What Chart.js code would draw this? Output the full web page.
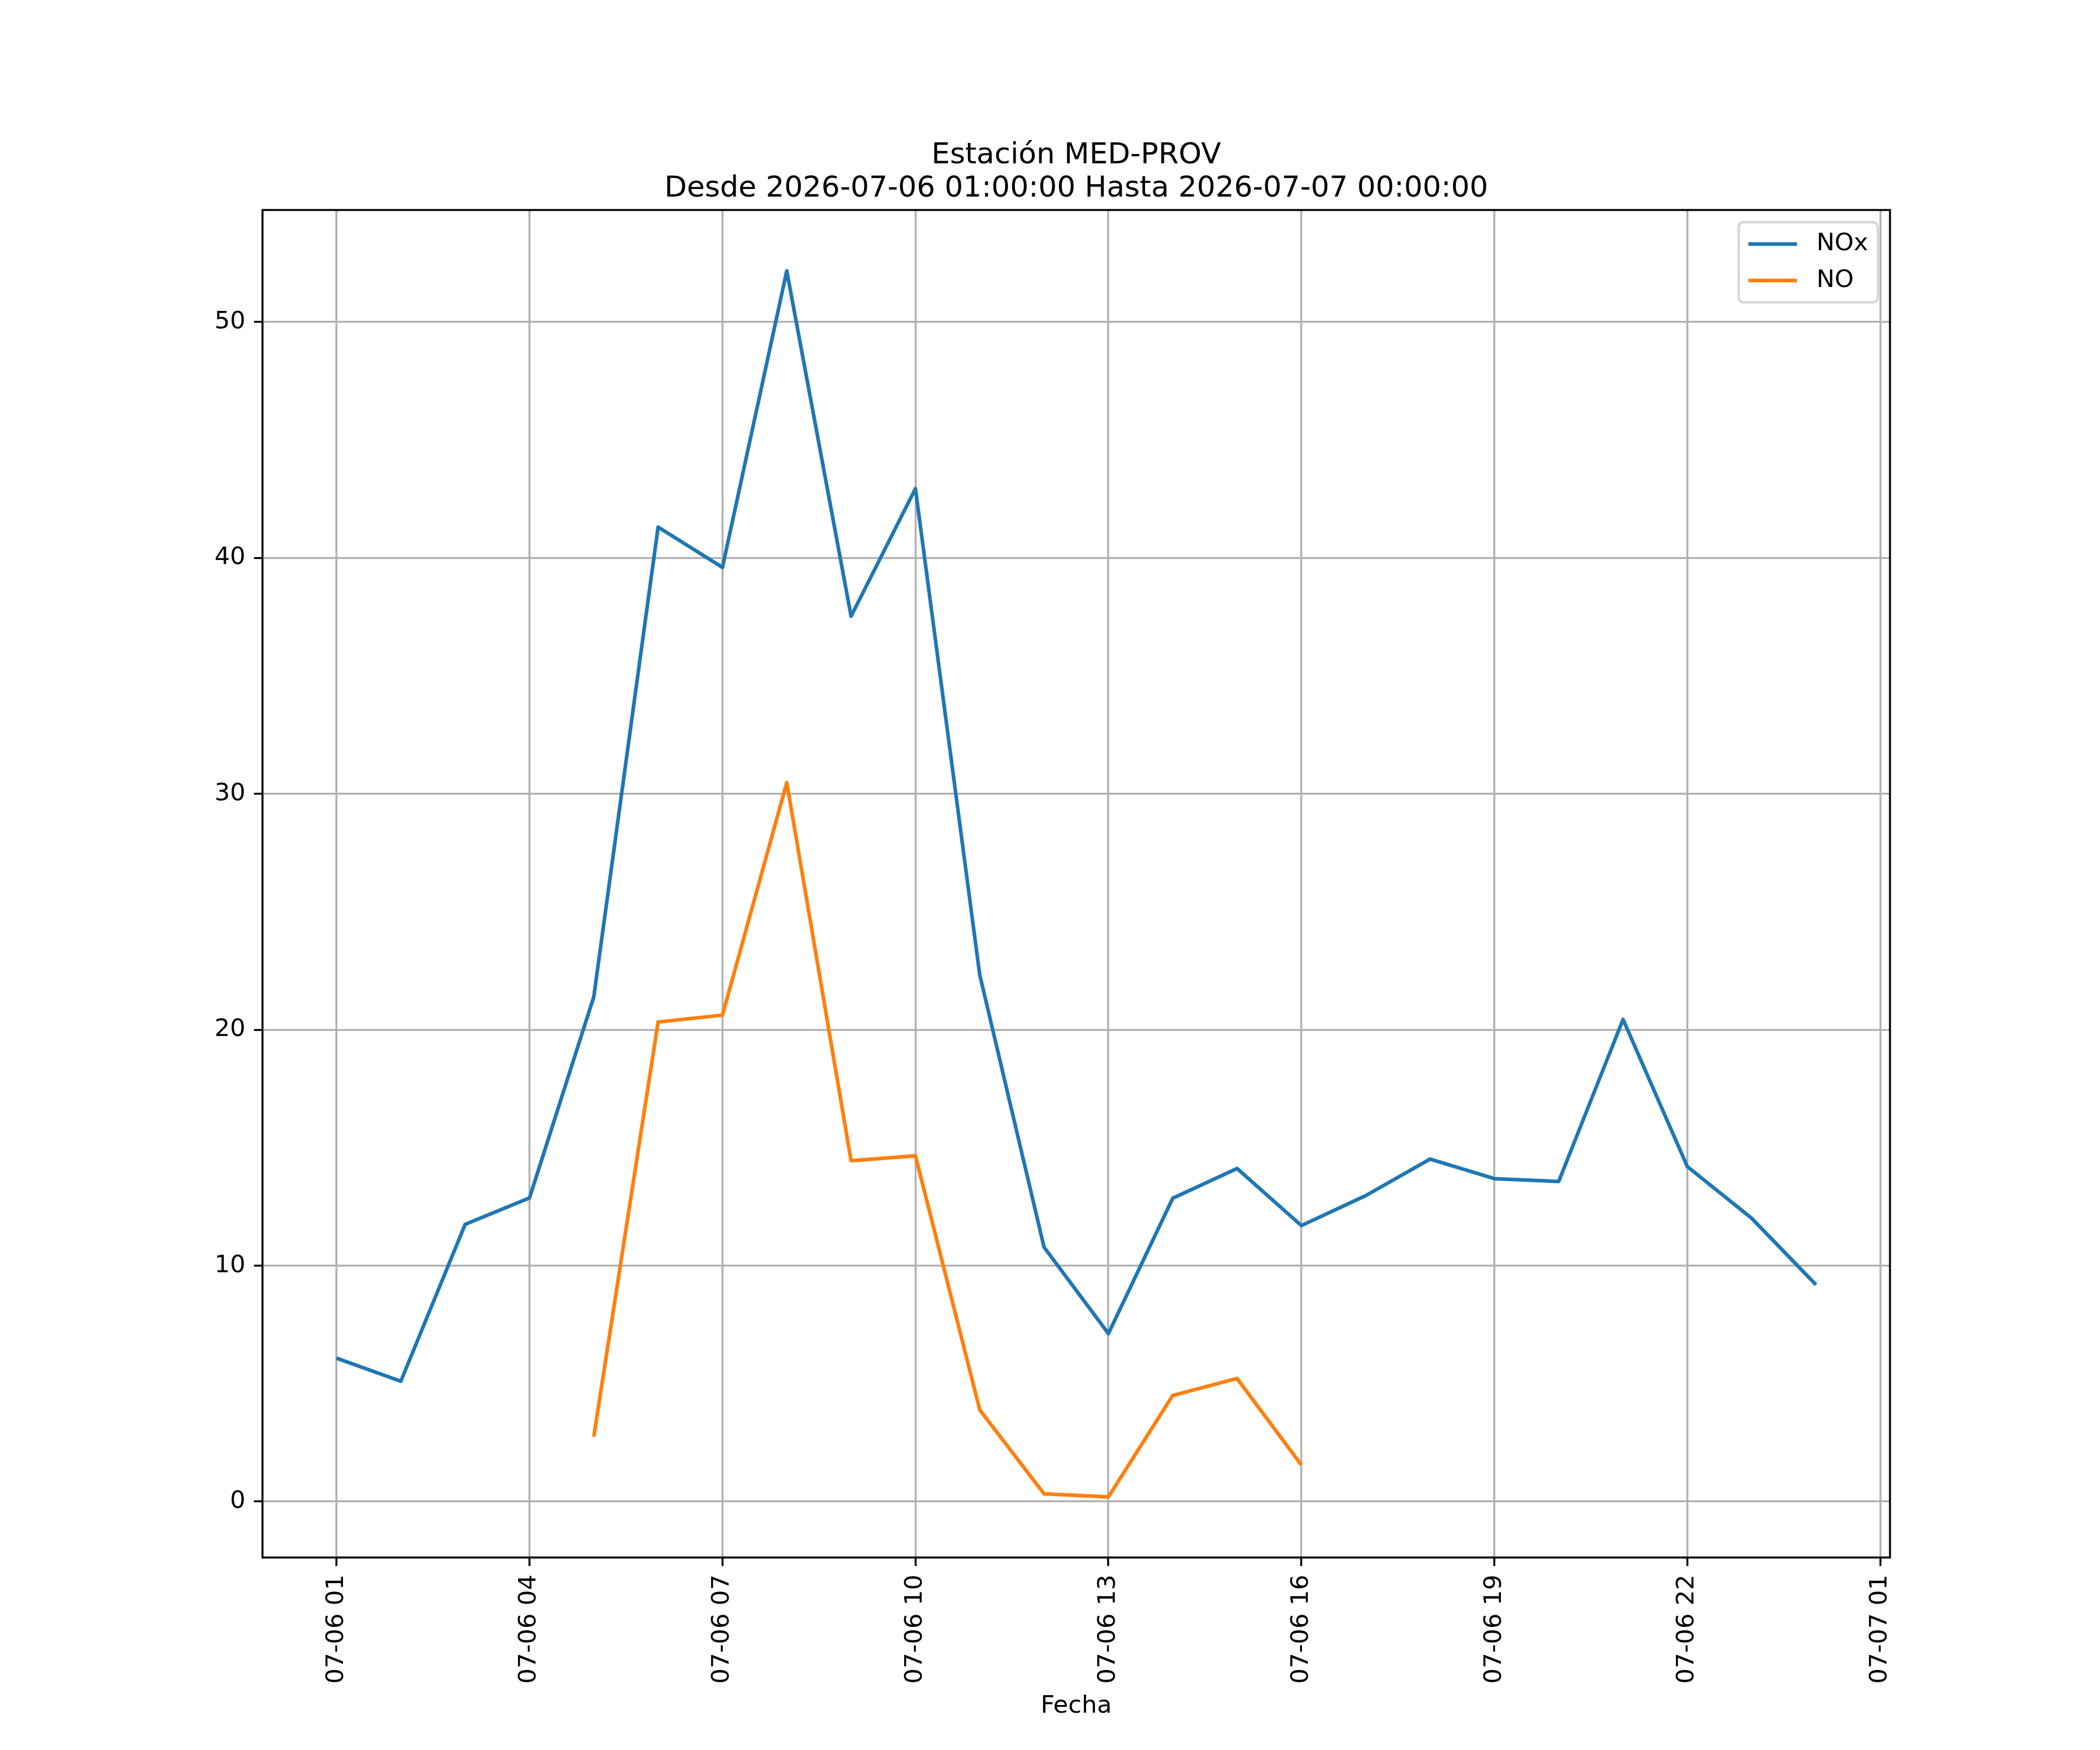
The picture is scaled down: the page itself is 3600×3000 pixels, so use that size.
<!DOCTYPE html>
<html>
<head>
<meta charset="utf-8">
<title>Estación MED-PROV</title>
<script src="https://cdn.jsdelivr.net/npm/chart.js@4.4.1/dist/chart.umd.min.js"></script>
<style>
    html, body { margin: 0; padding: 0; background: #ffffff; }
    #wrap { width: 3600px; height: 3000px; }
</style>
</head>
<body>
<div id="wrap"><canvas id="station-chart" width="3600" height="3000"></canvas></div>
<script>
// Hours after 2026-07-06 00:00 (1 = 07-06 01:00, 24 = 07-07 00:00)
const hourOffsets = [1, 2, 3, 4, 5, 6, 7, 8, 9, 10, 11, 12, 13, 14, 15, 16, 17, 18, 19, 20, 21, 22, 23, 24];
const noxValues = [6.08, 5.10, 11.75, 12.87, 21.40, 41.31, 39.60, 52.17, 37.53, 42.94, 22.33, 10.78,
                   7.12, 12.86, 14.12, 11.70, 12.97, 14.52, 13.69, 13.57, 20.44, 14.20, 12.01, 9.19];
const noValues = [null, null, null, null, 2.75, 20.33, 20.62, 30.48, 14.45, 14.66, 3.89, 0.33,
                  0.20, 4.50, 5.22, 1.55, null, null, null, null, null, null, null, null];

const tickHours = [1, 4, 7, 10, 13, 16, 19, 22, 25];
const tickLabels = ['07-06 01', '07-06 04', '07-06 07', '07-06 10', '07-06 13',
                    '07-06 16', '07-06 19', '07-06 22', '07-07 01'];
const yTicks = [0, 10, 20, 30, 40, 50];

const titleLines = ['Estación MED-PROV', 'Desde 2026-07-06 01:00:00 Hasta 2026-07-07 00:00:00'];

// matplotlib-ish sizes at 300 dpi
const PT = 300 / 72;
const FONT = 10 * PT;
const FAMILY = '"DejaVu Sans", sans-serif';

function toPoints(values) {
    return hourOffsets.map((h, i) => ({ x: h, y: values[i] }));
}

// Axes frame drawn on top of the lines
const spinesPlugin = {
    id: 'spines',
    afterDatasetsDraw(chart) {
        const { ctx, chartArea } = chart;
        ctx.save();
        ctx.strokeStyle = '#000000';
        ctx.lineWidth = 0.8 * PT;
        ctx.strokeRect(chartArea.left, chartArea.top,
            chartArea.right - chartArea.left, chartArea.bottom - chartArea.top);
        ctx.restore();
    }
};

// Legend box inside the axes, upper right
const boxLegendPlugin = {
    id: 'boxLegend',
    afterDraw(chart) {
        const { ctx, chartArea } = chart;
        const sets = chart.data.datasets;
        const pad = 0.4 * FONT, rowH = FONT, spacing = 0.5 * FONT;
        const handle = 2 * FONT, textPad = 0.8 * FONT, axPad = 0.5 * FONT;

        ctx.save();
        ctx.font = FONT + 'px ' + FAMILY;
        let textW = 0;
        sets.forEach(ds => { textW = Math.max(textW, ctx.measureText(ds.label).width); });

        const w = pad * 2 + handle + textPad + textW;
        const h = pad * 2 + rowH * sets.length + spacing * (sets.length - 1);
        const right = chartArea.right - axPad;
        const left = right - w;
        const top = chartArea.top + axPad;

        ctx.beginPath();
        ctx.roundRect(left, top, w, h, 0.2 * FONT);
        ctx.fillStyle = 'rgba(255,255,255,0.8)';
        ctx.fill();
        ctx.lineWidth = 1 * PT;
        ctx.strokeStyle = 'rgba(204,204,204,0.8)';
        ctx.stroke();

        sets.forEach((ds, i) => {
            const cy = top + pad + rowH / 2 + i * (rowH + spacing);
            ctx.beginPath();
            ctx.moveTo(left + pad, cy);
            ctx.lineTo(left + pad + handle, cy);
            ctx.strokeStyle = ds.borderColor;
            ctx.lineWidth = ds.borderWidth;
            ctx.stroke();
            ctx.fillStyle = '#000000';
            ctx.textAlign = 'left';
            ctx.textBaseline = 'middle';
            ctx.fillText(ds.label, left + pad + handle + textPad, cy);
        });
        ctx.restore();
    }
};

document.addEventListener('DOMContentLoaded', function() {
    Chart.defaults.font.family = FAMILY;
    Chart.defaults.color = '#000000';

    const gridOpts = {
        color: '#b0b0b0',
        lineWidth: 0.8 * PT,
        drawTicks: true,
        tickLength: 3.5 * PT,
        tickColor: '#000000',
        tickWidth: 0.8 * PT
    };

    new Chart(document.getElementById('station-chart'), {
        type: 'line',
        data: {
            datasets: [
                {
                    label: 'NOx',
                    data: toPoints(noxValues),
                    borderColor: '#1f77b4',
                    backgroundColor: '#1f77b4',
                    borderWidth: 1.5 * PT,
                    borderJoinStyle: 'round',
                    borderCapStyle: 'butt',
                    pointRadius: 0,
                    tension: 0,
                    spanGaps: false
                },
                {
                    label: 'NO',
                    data: toPoints(noValues),
                    borderColor: '#ff7f0e',
                    backgroundColor: '#ff7f0e',
                    borderWidth: 1.5 * PT,
                    borderJoinStyle: 'round',
                    borderCapStyle: 'butt',
                    pointRadius: 0,
                    tension: 0,
                    spanGaps: false
                }
            ]
        },
        options: {
            responsive: false,
            animation: false,
            devicePixelRatio: 1,
            layout: { padding: { left: 0, right: 360, top: 0, bottom: 0 } },
            plugins: {
                legend: { display: false },
                tooltip: { enabled: false },
                title: {
                    display: true,
                    fullSize: false,
                    text: titleLines,
                    color: '#000000',
                    font: { size: 12 * PT, weight: 'normal', lineHeight: 1.15 },
                    padding: { top: 238, bottom: 7 }
                }
            },
            scales: {
                x: {
                    type: 'linear',
                    min: -0.15,
                    max: 25.15,
                    grid: gridOpts,
                    border: { display: false },
                    afterBuildTicks: scale => { scale.ticks = tickHours.map(v => ({ value: v })); },
                    afterFit: scale => { scale.height = 330; },
                    ticks: {
                        autoSkip: false,
                        minRotation: 90,
                        maxRotation: 90,
                        padding: 3.5 * PT,
                        font: { size: FONT },
                        callback: (value, index) => tickLabels[index]
                    },
                    title: {
                        display: true,
                        text: 'Fecha',
                        font: { size: FONT, lineHeight: 1.2 },
                        padding: { top: 0, bottom: 50 }
                    }
                },
                y: {
                    type: 'linear',
                    min: -2.37,
                    max: 54.75,
                    grid: gridOpts,
                    border: { display: false },
                    afterBuildTicks: scale => { scale.ticks = yTicks.map(v => ({ value: v })); },
                    afterFit: scale => { scale.width = 450; },
                    ticks: {
                        padding: 3.5 * PT,
                        font: { size: FONT },
                        callback: value => String(value)
                    }
                }
            }
        },
        plugins: [spinesPlugin, boxLegendPlugin]
    });
});
</script>
</body>
</html>
